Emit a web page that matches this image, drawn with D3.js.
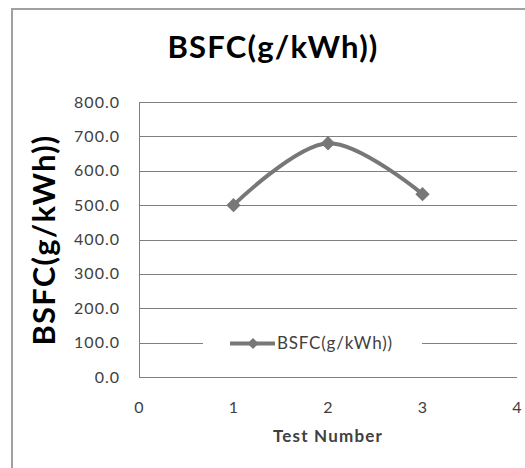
<!DOCTYPE html>
<html><head><meta charset="utf-8">
<script src="https://cdn.jsdelivr.net/npm/d3@7"></script>
<style>body{margin:0;background:#fff}svg{display:block}</style>
</head><body>
<script>
const testNumbers = [1, 2, 3];
const bsfcValues = [500, 680, 532];
const yTicks = [0, 100, 200, 300, 400, 500, 600, 700, 800];
const xTicks = [0, 1, 2, 3, 4];
const seriesName = "BSFC(g/kWh))";
const chartTitle = "BSFC(g/kWh))";
const xTitle = "Test Number";
const yTitle = "BSFC(g/kWh))";

const W = 525, H = 468;
const svg = d3.select("body").append("svg").attr("width", W).attr("height", H);
const font = "Lato, Calibri, 'Open Sans', sans-serif";

// outer border
svg.append("path").attr("d", `M12,${H} V9 H${W}`).attr("fill","none").attr("stroke","#a0a0a0").attr("stroke-width",2);

const x = d3.scaleLinear().domain([0, 4]).range([139, 517]);
const y = d3.scaleLinear().domain([0, 800]).range([377, 102]);

// gridlines
const legendGap = [203, 422];
yTicks.forEach(t => {
  const yy = Math.round(y(t)) + 0.5;
  if (t === 100) {
    svg.append("line").attr("x1", x(0)).attr("x2", legendGap[0]).attr("y1", yy).attr("y2", yy).attr("stroke","#808080");
    svg.append("line").attr("x1", legendGap[1]).attr("x2", x(4)).attr("y1", yy).attr("y2", yy).attr("stroke","#808080");
  } else {
    svg.append("line").attr("x1", x(0)).attr("x2", x(4)).attr("y1", yy).attr("y2", yy).attr("stroke","#808080");
  }
});
// left axis line
svg.append("line").attr("x1", x(0)+0.5).attr("x2", x(0)+0.5).attr("y1", y(800)).attr("y2", y(0)).attr("stroke","#808080");

// y tick labels
svg.append("g").selectAll("text").data(yTicks).join("text")
  .attr("x", 120).attr("y", d => y(d)).attr("dy","0.35em")
  .attr("text-anchor","end").attr("font-family", font).attr("font-size", 16).attr("letter-spacing", 1).attr("fill","#404040")
  .text(d => d.toFixed(1));

// x tick labels
svg.append("g").selectAll("text").data(xTicks).join("text")
  .attr("x", d => x(d)).attr("y", 407).attr("dy","0.35em")
  .attr("text-anchor","middle").attr("font-family", font).attr("font-size", 16).attr("fill","#404040")
  .text(d => d);

// title
svg.append("text").attr("x", 273).attr("y", 47).attr("dy","0.35em").attr("text-anchor","middle")
  .attr("font-family", font).attr("font-size", 31).attr("font-weight","bold").attr("letter-spacing", 1.2).attr("fill","#000").text(chartTitle);

// x axis title
svg.append("text").attr("x", 328).attr("y", 436).attr("dy","0.35em").attr("text-anchor","middle")
  .attr("font-family", font).attr("font-size", 17).attr("font-weight","bold").attr("letter-spacing", 1.2).attr("fill","#404040").text(xTitle);

// y axis title
svg.append("text").attr("transform","translate(44,240) rotate(-90)").attr("dy","0.35em").attr("text-anchor","middle")
  .attr("font-family", font).attr("font-size", 31).attr("font-weight","bold").attr("letter-spacing", 1.2).attr("fill","#000").text(yTitle);

// line
const pts = testNumbers.map((d,i)=>[d, bsfcValues[i]]);
const line = d3.line().x(d=>x(d[0])).y(d=>y(d[1])).curve(d3.curveCatmullRom.alpha(0.5));
svg.append("path").datum(pts).attr("d", line).attr("fill","none").attr("stroke","#777").attr("stroke-width",4);

const diamond = d3.symbol().type(d3.symbolDiamond2).size(130);
svg.append("g").selectAll("path").data(pts).join("path")
  .attr("transform", d=>`translate(${x(d[0])},${y(d[1])})`).attr("d", diamond).attr("fill","#777");

// legend
const ly = Math.round(y(100)) + 0.5;
svg.append("line").attr("x1", 230).attr("x2", 275).attr("y1", ly).attr("y2", ly).attr("stroke","#777").attr("stroke-width",4);
svg.append("path").attr("transform", `translate(253,${ly})`).attr("d", d3.symbol().type(d3.symbolDiamond2).size(80)).attr("fill","#777");
svg.append("text").attr("x", 277).attr("y", ly).attr("dy","0.35em").attr("font-family", font).attr("font-size", 17).attr("letter-spacing", 0.8).attr("fill","#404040").text(seriesName);
</script>
</body></html>
